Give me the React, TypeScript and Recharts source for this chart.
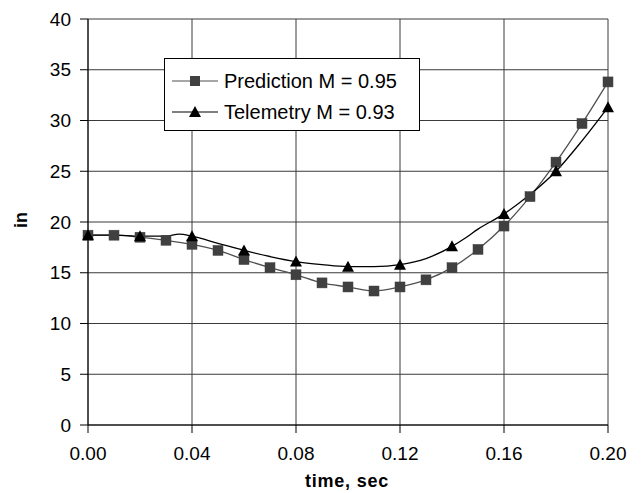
import React from 'react';
import { LineChart, Line, XAxis, YAxis, CartesianGrid } from 'recharts';

const predictionTimes = [0, 0.01, 0.02, 0.03, 0.04, 0.05, 0.06, 0.07, 0.08, 0.09, 0.1, 0.11, 0.12, 0.13, 0.14, 0.15, 0.16, 0.17, 0.18, 0.19, 0.2];
const predictionValues = [18.7, 18.7, 18.5, 18.2, 17.8, 17.2, 16.3, 15.5, 14.8, 14.0, 13.6, 13.2, 13.6, 14.3, 15.5, 17.3, 19.6, 22.5, 25.9, 29.7, 33.8];

const telemetryTimes = [0, 0.01, 0.02, 0.03, 0.035, 0.04, 0.05, 0.06, 0.07, 0.08, 0.09, 0.1, 0.11, 0.12, 0.13, 0.14, 0.145, 0.15, 0.16, 0.17, 0.18, 0.19, 0.2];
const telemetryValues = [18.7, 18.7, 18.6, 18.6, 18.8, 18.6, 17.9, 17.2, 16.6, 16.1, 15.8, 15.6, 15.6, 15.8, 16.4, 17.6, 18.4, 19.3, 20.8, 22.7, 25.0, 28.0, 31.3];
const telemetryMarkerTimes = [0, 0.02, 0.04, 0.06, 0.08, 0.1, 0.12, 0.14, 0.16, 0.18, 0.2];

const xTicks = [0, 0.04, 0.08, 0.12, 0.16, 0.2];
const yTicks = [0, 5, 10, 15, 20, 25, 30, 35, 40];

const predictionName = 'Prediction M = 0.95';
const telemetryName = 'Telemetry M = 0.93';

const predictionData = predictionTimes.map((t, i) => ({ t, v: predictionValues[i] }));
const telemetryData = telemetryTimes.map((t, i) => ({ t, v: telemetryValues[i] }));

const FONT = '"Liberation Sans", Arial, sans-serif';
const SQ_COLOR = '#404040';
const PRED_LINE = '#505050';

const SquareDot = (props: any) => {
  const { cx, cy, index } = props;
  if (cx == null || cy == null) return <g key={`s${index}`} />;
  return <rect key={`s${index}`} x={cx - 5} y={cy - 5} width={10} height={10} fill={SQ_COLOR} stroke={SQ_COLOR} strokeWidth={0.5} />;
};

const TriangleDot = (props: any) => {
  const { cx, cy, index, payload } = props;
  if (cx == null || cy == null) return <g key={`t${index}`} />;
  const show = telemetryMarkerTimes.some((m) => Math.abs(m - payload.t) < 1e-9);
  if (!show) return <g key={`t${index}`} />;
  return <polygon key={`t${index}`} points={`${cx},${cy - 6} ${cx + 6},${cy + 5} ${cx - 6},${cy + 5}`} fill="#000" />;
};

const LegendBox = () => (
  <svg width={257} height={74} style={{ display: 'block' }}>
    <rect x={0.5} y={0.5} width={255} height={72} fill="#fff" stroke="#000" strokeWidth={1} />
    <line x1={8} y1={23} x2={54} y2={23} stroke={PRED_LINE} strokeWidth={1.2} />
    <rect x={26} y={18} width={10} height={10} fill={SQ_COLOR} />
    <text x={60} y={30} fontFamily={FONT} fontSize={20} fill="#000">{predictionName}</text>
    <line x1={8} y1={54} x2={54} y2={54} stroke="#000" strokeWidth={1.2} />
    <polygon points="31,48 37,59 25,59" fill="#000" />
    <text x={60} y={61} fontFamily={FONT} fontSize={20} fill="#000">{telemetryName}</text>
  </svg>
);

export default function App() {
  return (
    <div style={{ width: 636, height: 485, background: '#fff', position: 'relative' }}>
      <LineChart width={636} height={485} margin={{ top: 11, right: 36, bottom: 0, left: 0 }}>
        <CartesianGrid stroke="#3a3a3a" strokeWidth={1} />
        <XAxis
          dataKey="t"
          type="number"
          domain={[0, 0.2]}
          ticks={xTicks}
          tickFormatter={(v: number) => v.toFixed(2)}
          height={68}
          tickSize={8}
          tickMargin={14}
          stroke="#000"
          tick={{ fill: '#000', fontSize: 19, fontFamily: FONT }}
          allowDuplicatedCategory={false}
          label={{
            content: () => (
              <text x={339} y={479} textAnchor="middle" fontFamily={FONT} fontWeight="bold" fontSize={18} letterSpacing={0.8} fill="#000">
                time, sec
              </text>
            ),
          }}
        />
        <YAxis
          dataKey="v"
          type="number"
          domain={[0, 40]}
          ticks={yTicks}
          width={80}
          tickSize={8}
          tickMargin={9}
          stroke="#000"
          tick={{ fill: '#000', fontSize: 19, fontFamily: FONT }}
          label={{
            content: () => (
              <text x={13} y={212} textAnchor="middle" dominantBaseline="central" transform="rotate(-90 13 212)" fontFamily={FONT} fontWeight="bold" fontSize={18} fill="#000">
                in
              </text>
            ),
          }}
        />
        <Line
          data={predictionData}
          dataKey="v"
          name={predictionName}
          type="monotone"
          stroke={PRED_LINE}
          strokeWidth={1.3}
          dot={SquareDot}
          activeDot={false}
          isAnimationActive={false}
        />
        <Line
          data={telemetryData}
          dataKey="v"
          name={telemetryName}
          type="monotone"
          stroke="#000"
          strokeWidth={1.3}
          dot={TriangleDot}
          activeDot={false}
          isAnimationActive={false}
        />
      </LineChart>
      <div style={{ position: 'absolute', left: 156, top: 50 }}>
        <LegendBox />
      </div>
    </div>
  );
}
